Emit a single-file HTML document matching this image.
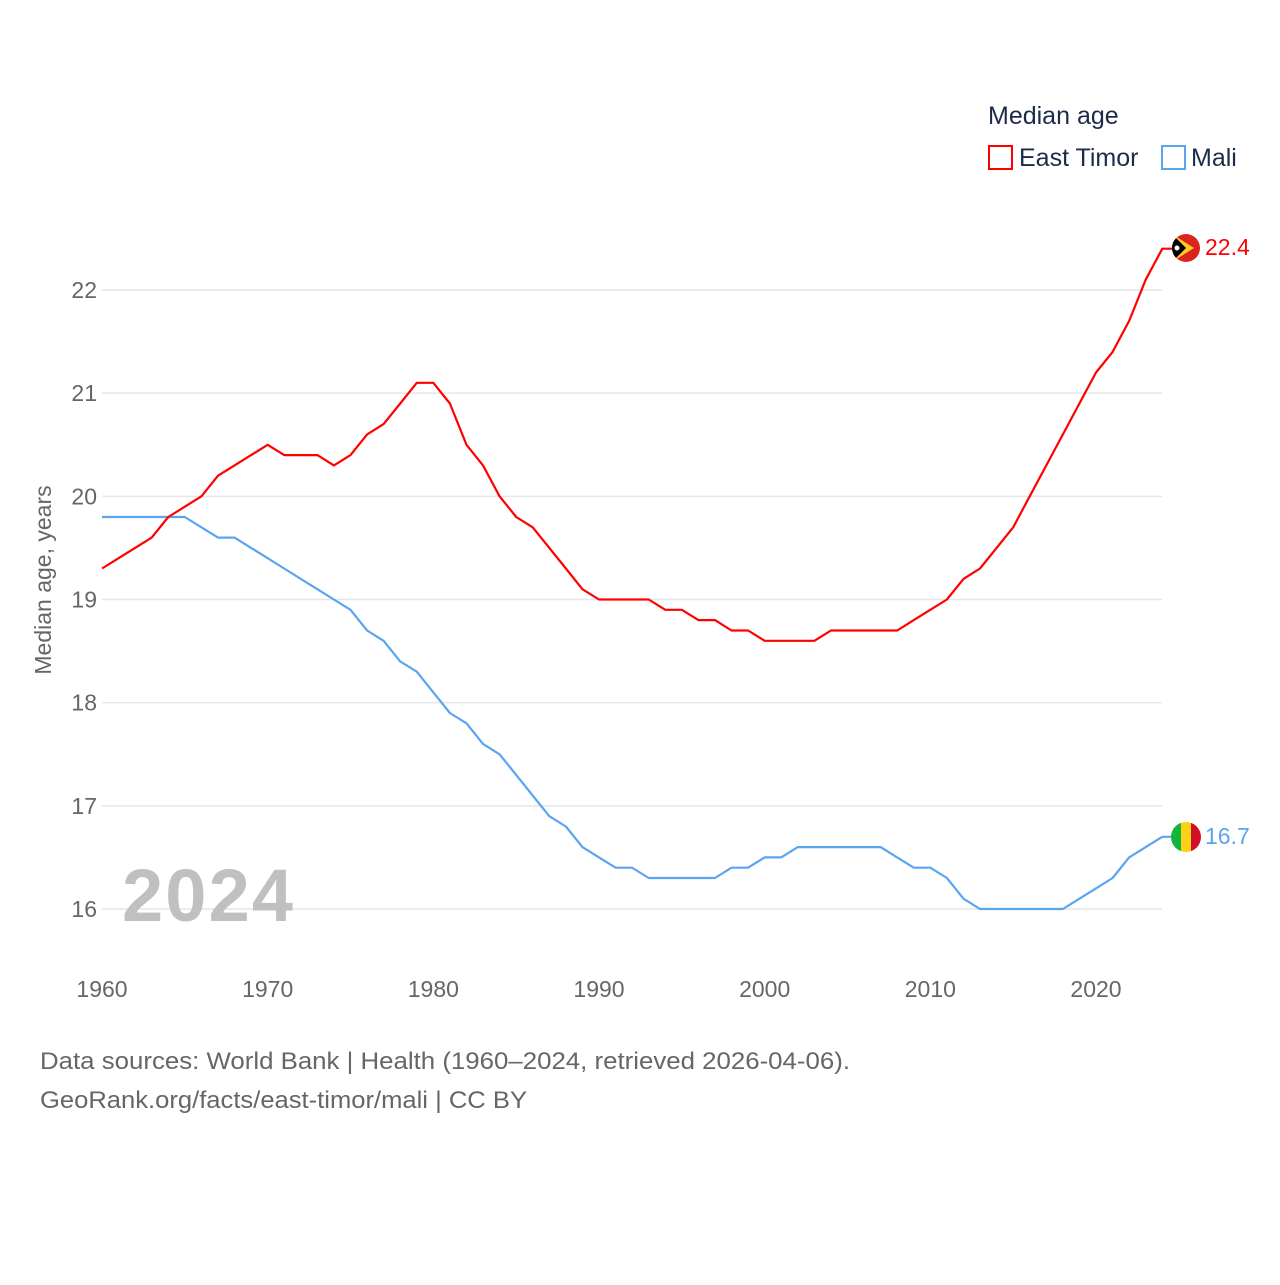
<!DOCTYPE html>
<html><head><meta charset="utf-8"><style>
body{margin:0;background:#fff;width:1280px;height:1280px;overflow:hidden;font-family:"Liberation Sans",sans-serif}
</style></head><body>
<svg id="chart" width="1280" height="1280" xmlns="http://www.w3.org/2000/svg" font-family="Liberation Sans, sans-serif">
<g id="grid"></g>
<g id="yticks"></g>
<g id="xticks"></g>
<text x="122" y="921" font-size="74" font-weight="bold" fill="#c0c0c0" textLength="171">2024</text>
<text transform="translate(51,580) rotate(-90)" text-anchor="middle" font-size="23" fill="#666">Median age, years</text>
<g id="series"></g>
<g>
<text x="988" y="124" font-size="25" fill="#1d2b4a">Median age</text>
<g><rect x="989" y="146" width="23" height="23" fill="none" stroke="#f00" stroke-width="2"/><text x="1019" y="166" font-size="25" fill="#1d2b4a">East Timor</text></g>
<g><rect x="1162" y="146" width="23" height="23" fill="none" stroke="#5ba4f0" stroke-width="2"/><text x="1191" y="166" font-size="25" fill="#1d2b4a">Mali</text></g>
</g>
<g>
<clipPath id="c1"><circle cx="1186" cy="248" r="14"/></clipPath>
<g clip-path="url(#c1)"><rect x="1172" y="234" width="28" height="28" fill="#dc241f"/><polygon points="1172,234 1194,248 1172,262" fill="#ffc726"/><polygon points="1172,234 1186,248 1172,262" fill="#000"/><circle cx="1177" cy="248" r="2.5" fill="#fff"/></g>
</g>
<g>
<clipPath id="c2"><circle cx="1186" cy="837" r="15"/></clipPath>
<g clip-path="url(#c2)"><rect x="1171" y="822" width="10" height="30" fill="#14b53a"/><rect x="1181" y="822" width="10" height="30" fill="#fcd116"/><rect x="1191" y="822" width="10" height="30" fill="#ce1126"/></g>
</g>
<text x="1205" y="255" font-size="23" fill="#f00">22.4</text>
<text x="1205" y="844" font-size="23" fill="#5ba4f0">16.7</text>
<text x="40" y="1069" font-size="24" fill="#666" textLength="810" lengthAdjust="spacingAndGlyphs">Data sources: World Bank | Health (1960–2024, retrieved 2026-04-06).</text>
<text x="40" y="1108" font-size="24" fill="#666" textLength="487" lengthAdjust="spacingAndGlyphs">GeoRank.org/facts/east-timor/mali | CC BY</text>
</svg>
<script>
const years=[];for(let y=1960;y<=2024;y++)years.push(y);
const eastTimor=[19.3,19.4,19.5,19.6,19.8,19.9,20.0,20.2,20.3,20.4,20.5,20.4,20.4,20.4,20.3,20.4,20.6,20.7,20.9,21.1,21.1,20.9,20.5,20.3,20.0,19.8,19.7,19.5,19.3,19.1,19.0,19.0,19.0,19.0,18.9,18.9,18.8,18.8,18.7,18.7,18.6,18.6,18.6,18.6,18.7,18.7,18.7,18.7,18.7,18.8,18.9,19.0,19.2,19.3,19.5,19.7,20.0,20.3,20.6,20.9,21.2,21.4,21.7,22.1,22.4];
const mali=[19.8,19.8,19.8,19.8,19.8,19.8,19.7,19.6,19.6,19.5,19.4,19.3,19.2,19.1,19.0,18.9,18.7,18.6,18.4,18.3,18.1,17.9,17.8,17.6,17.5,17.3,17.1,16.9,16.8,16.6,16.5,16.4,16.4,16.3,16.3,16.3,16.3,16.3,16.4,16.4,16.5,16.5,16.6,16.6,16.6,16.6,16.6,16.6,16.5,16.4,16.4,16.3,16.1,16.0,16.0,16.0,16.0,16.0,16.0,16.1,16.2,16.3,16.5,16.6,16.7];
const yTicks=[16,17,18,19,20,21,22];
const xTicks=[1960,1970,1980,1990,2000,2010,2020];
const NS="http://www.w3.org/2000/svg";
const xS=y=>102+(y-1960)*(994/60);
const yS=v=>909-(v-16)*(619/6);
function mk(t,a,p){const e=document.createElementNS(NS,t);for(const k in a)e.setAttribute(k,a[k]);p.appendChild(e);return e;}
const grid=document.getElementById('grid'),yt=document.getElementById('yticks'),xt=document.getElementById('xticks'),ser=document.getElementById('series');
yTicks.forEach(v=>{
 const l=mk('line',{x1:102,x2:1162,y1:yS(v),y2:yS(v),stroke:'#e6e6e6','stroke-width':1.5},grid);
 
 
 const t=mk('text',{x:97,y:yS(v)+8,'text-anchor':'end','font-size':23,fill:'#666'},yt);t.textContent=v;
 
 
});
xTicks.forEach(v=>{
 const t=mk('text',{x:xS(v),y:997,'text-anchor':'middle','font-size':23,fill:'#666'},xt);t.textContent=v;
 
 
});
function line(data,color,name){
 const last=data[data.length-1];
 const d=data.map((v,i)=>(i?'L':'M')+xS(years[i]).toFixed(1)+','+yS(v).toFixed(1)).join('')+'L1172,'+yS(last).toFixed(1);
 const p=mk('path',{d:d,fill:'none',stroke:color,'stroke-width':2.2,'stroke-linejoin':'round'},ser);
 
 
}
line(mali,'#5ba4f0','line-mali');
line(eastTimor,'#ff0000','line-east-timor');
</script>
</body></html>
